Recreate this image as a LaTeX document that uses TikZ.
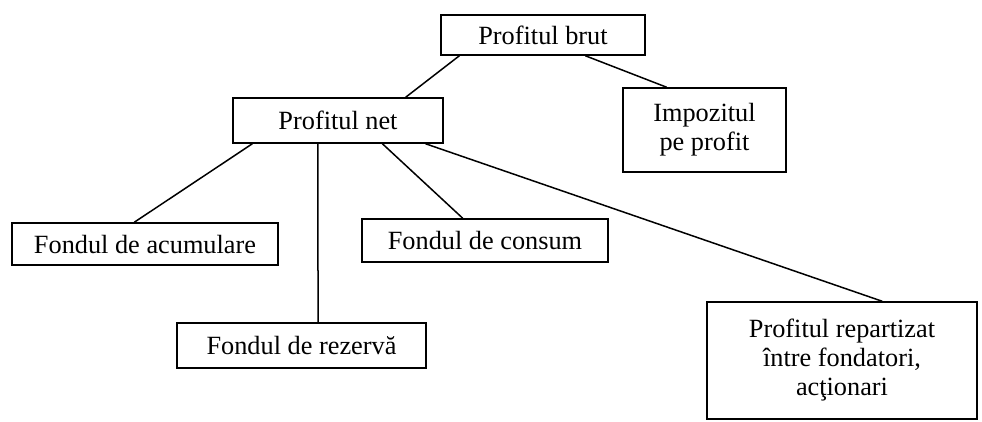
\documentclass[tikz,border=0pt]{standalone}
\usepackage{fontspec}
\setmainfont{Liberation Serif}
\usetikzlibrary{calc}

\begin{document}
\begin{tikzpicture}[x=1pt,y=-1pt,line width=1.5pt,
	box/.style={draw,inner sep=0pt,align=center,font=\fontsize{26.3}{29}\selectfont}]
	
	% Canvas, same size as the scan
	\useasboundingbox (0,0) rectangle (982,421);
	
	% Top level: gross profit and the tax
	\node[box,minimum width=204pt,minimum height=40pt] (brut) at (543,35) {Profitul brut};
	\node[box,minimum width=163pt,minimum height=84pt] (impozit) at (704.5,130) {Impozitul\\pe profit};
	
	% Net profit
	\node[box,minimum width=210pt,minimum height=45pt] (net) at (338,120.5) {Profitul net};
	
	% The funds
	\node[box,minimum width=266pt,minimum height=42pt] (acum) at (145,244) {Fondul de acumulare};
	\node[box,minimum width=246pt,minimum height=43pt] (consum) at (485,240.5) {Fondul de consum};
	\node[box,minimum width=249pt,minimum height=45pt] (rezerva) at (301.5,345.5) {Fondul de rezervă};
	\node[box,minimum width=270pt,minimum height=117pt] (repart) at (842,360.5) {Profitul repartizat\\între fondatori,\\acţionari};
	
	% Links from gross profit
	\draw ($(brut.south west)!0.093!(brut.south east)$) -- ($(net.north west)!0.82!(net.north east)$);
	\draw ($(brut.south west)!0.706!(brut.south east)$) -- ($(impozit.north west)!0.27!(impozit.north east)$);
	
	% Links from net profit
	\draw ($(net.south west)!0.095!(net.south east)$) -- ($(acum.north west)!0.46!(acum.north east)$);
	\draw ($(net.south west)!0.405!(net.south east)$) -- ($(rezerva.north west)!0.566!(rezerva.north east)$);
	\draw ($(net.south west)!0.71!(net.south east)$) -- ($(consum.north west)!0.41!(consum.north east)$);
	\draw ($(net.south west)!0.914!(net.south east)$) -- ($(repart.north west)!0.648!(repart.north east)$);
	
\end{tikzpicture}
\end{document}
